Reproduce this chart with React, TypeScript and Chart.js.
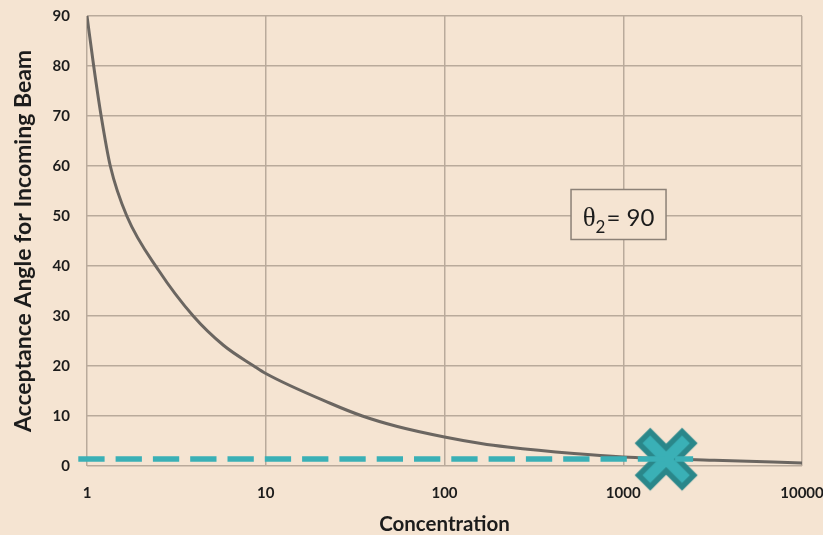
import React, { useEffect, useRef } from 'react';
import { Chart, registerables } from 'chart.js';

Chart.register(...registerables);

// ---- data ----
const concentration = [1, 1.09, 1.2, 1.35, 1.67, 2.52, 3.93, 5.82, 8.58, 10, 23.1, 34.7, 54.5, 100, 160, 225, 530, 1000, 3240, 10000];
const acceptanceAngle = [90, 80, 70, 60, 50, 39.1, 30, 24.1, 20, 18.5, 12.5, 10, 7.9, 5.8, 4.5, 3.8, 2.5, 1.8, 1.15, 0.6];
const limitLineX = [0.894, 2460];
const limitLineY = [1.4, 1.4];
const markerX = [1738];
const markerY = [1.35];
const xTickValues = [1, 10, 100, 1000, 10000];
const yMin = 0;
const yMax = 90;
const yStep = 10;
const xTitle = 'Concentration';
const yTitle = 'Acceptance Angle for Incoming Beam';
const boxLabelPos = [941, 50.3];
const boxSymbol = 'θ';
const boxSub = '2';
const boxRest = '= 90';

const BG = '#F5E4D2';
const GRID = '#B9AA9B';
const CURVE = '#6B6661';
const TEAL = '#3AB0B6';
const TEAL_DARK = '#2A878A';
const TEXT = '#1c1c1c';

function makeCrossImage(): HTMLCanvasElement {
  const c = document.createElement('canvas');
  c.width = 66;
  c.height = 66;
  const g = c.getContext('2d')!;
  const m = 33;
  const drawX = (d: number, w: number, col: string) => {
    g.strokeStyle = col;
    g.lineWidth = w;
    g.lineCap = 'butt';
    g.beginPath();
    g.moveTo(m - d, m - d);
    g.lineTo(m + d, m + d);
    g.moveTo(m + d, m - d);
    g.lineTo(m - d, m + d);
    g.stroke();
  };
  drawX(23.7, 22, TEAL_DARK);
  drawX(19.8, 11, TEAL);
  return c;
}

const boxPlugin = {
  id: 'thetaBox',
  afterDatasetsDraw(chart: any) {
    const { ctx, scales } = chart;
    const cx = scales.x.getPixelForValue(boxLabelPos[0]);
    const cy = scales.y.getPixelForValue(boxLabelPos[1]);
    const w = 95;
    const h = 50;
    ctx.save();
    ctx.fillStyle = BG;
    ctx.fillRect(cx - w / 2, cy - h / 2, w, h);
    ctx.strokeStyle = '#8C8177';
    ctx.lineWidth = 1.5;
    ctx.strokeRect(cx - w / 2, cy - h / 2, w, h);
    const f1 = '27px "Liberation Serif"';
    const f2 = '17px Lato';
    const f3 = '24px Lato';
    ctx.font = f1;
    const w1 = ctx.measureText(boxSymbol).width;
    ctx.font = f2;
    const w2 = ctx.measureText(boxSub).width;
    ctx.font = f3;
    const w3 = ctx.measureText(boxRest).width;
    const total = w1 + w2 + 1 + w3;
    let x = cx - total / 2;
    const base = cy + 11;
    ctx.fillStyle = TEXT;
    ctx.textBaseline = 'alphabetic';
    ctx.textAlign = 'left';
    ctx.font = f1;
    ctx.fillText(boxSymbol, x, base);
    x += w1;
    ctx.font = f2;
    ctx.fillText(boxSub, x, base + 7);
    x += w2 + 1;
    ctx.font = f3;
    ctx.fillText(boxRest, x, base);
    ctx.restore();
  },
};

export default function App() {
  const ref = useRef<HTMLCanvasElement>(null);
  useEffect(() => {
    document.body.style.margin = '0';
    const canvas = ref.current!;
    const cross = makeCrossImage();
    const chart = new Chart(canvas, {
      type: 'line',
      data: {
        datasets: [
          {
            label: 'limit',
            data: limitLineX.map((x, i) => ({ x, y: limitLineY[i] })),
            borderColor: TEAL,
            borderWidth: 5.3,
            borderDash: [26.3, 11],
            pointRadius: 0,
            clip: false as any,
            tension: 0,
          },
          {
            label: 'marker',
            data: markerX.map((x, i) => ({ x, y: markerY[i] })),
            showLine: false,
            pointStyle: cross as any,
            pointRadius: 33,
            clip: false as any,
          },
          {
            label: 'curve',
            data: concentration.map((x, i) => ({ x, y: acceptanceAngle[i] })),
            borderColor: CURVE,
            borderWidth: 3,
            pointRadius: 0,
            cubicInterpolationMode: 'monotone',
            fill: false,
          },
        ],
      },
      options: {
        animation: false,
        responsive: false,
        maintainAspectRatio: false,
        layout: { autoPadding: false, padding: { top: 16, right: 21, left: 0, bottom: 0 } },
        plugins: { legend: { display: false }, tooltip: { enabled: false } },
        scales: {
          x: {
            type: 'logarithmic',
            min: xTickValues[0],
            max: xTickValues[xTickValues.length - 1],
            afterBuildTicks: (s: any) => {
              s.ticks = xTickValues.map((v) => ({ value: v }));
            },
            afterFit: (s: any) => {
              s.height = 69;
              s.paddingLeft = 0;
              s.paddingRight = 0;
            },
            grid: { color: GRID, lineWidth: 1.5, drawTicks: false },
            border: { display: false },
            ticks: {
              padding: 18,
              color: TEXT,
              font: { family: 'Lato', size: 15, weight: 'bold' },
              callback: (v: any) => String(v),
              maxRotation: 0,
              autoSkip: false,
            },
            title: {
              display: true,
              text: xTitle,
              color: TEXT,
              font: { family: 'Lato', size: 20.5, weight: 'bold', lineHeight: 1 },
              padding: { top: 0, bottom: 0 },
            },
          },
          y: {
            min: yMin,
            max: yMax,
            afterFit: (s: any) => {
              s.width = 87;
              s.paddingTop = 0;
              s.paddingBottom = 0;
            },
            grid: { color: GRID, lineWidth: 1.5, drawTicks: false },
            border: { display: false },
            ticks: {
              stepSize: yStep,
              padding: 17,
              color: TEXT,
              font: { family: 'Lato', size: 15, weight: 'bold' },
            },
            title: {
              display: true,
              text: yTitle,
              color: TEXT,
              font: { family: 'Lato', size: 23, weight: 'bold' },
              padding: { top: 10, bottom: 0 },
            },
          },
        },
      },
      plugins: [boxPlugin],
    });
    return () => chart.destroy();
  }, []);
  return (
    <div style={{ position: 'fixed', left: 0, top: 0, width: 823, height: 535, background: BG }}>
      <canvas ref={ref} width={823} height={535} style={{ display: 'block' }} />
    </div>
  );
}
